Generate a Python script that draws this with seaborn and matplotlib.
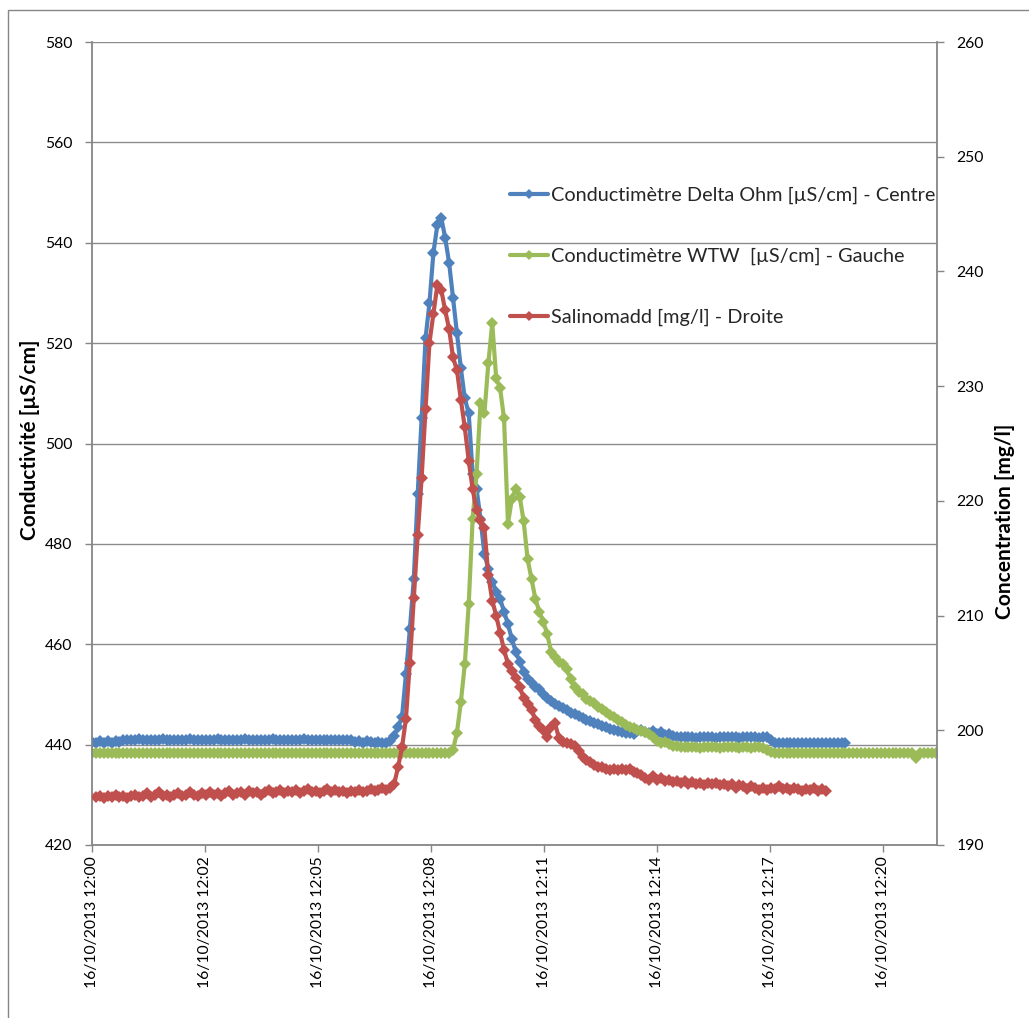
import numpy as np
import pandas as pd
import matplotlib
matplotlib.use("Agg")
import matplotlib.pyplot as plt
import matplotlib.dates as mdates
from matplotlib.patches import Rectangle
import seaborn as sns

# ---------------- data ----------------
START = "2013-10-16 12:00:00"
STEP_S = 6          # sampling step (s)
RED_OFFSET_S = 6    # Salinomadd starts a little later
X_END_S = 1292

LABEL_BLUE = "Conductimètre Delta Ohm [µS/cm] - Centre"
LABEL_GREEN = "Conductimètre WTW  [µS/cm] - Gauche"
LABEL_RED = "Salinomadd [mg/l] - Droite"

X_TICK_LABELS = ["16/10/2013 12:00", "16/10/2013 12:02", "16/10/2013 12:05",
                 "16/10/2013 12:08", "16/10/2013 12:11", "16/10/2013 12:14",
                 "16/10/2013 12:17", "16/10/2013 12:20"]
X_TICK_STEP_S = 172.8

LEFT_TICKS = [420, 440, 460, 480, 500, 520, 540, 560, 580]
RIGHT_TICKS = [190, 200, 210, 220, 230, 240, 250, 260]

blue_vals = [
    440.6, 440.3, 440.8, 440.4, 440.7, 440.3, 440.8, 440.5, 440.9, 441.0,
    441.0, 441.0, 441.1, 441.0, 441.0, 440.9, 441.0, 441.0, 441.1, 441.0,
    441.0, 441.0, 440.9, 441.0, 441.0, 441.1, 441.0, 441.0, 441.0, 440.9,
    441.0, 441.0, 441.1, 441.0, 441.0, 441.0, 440.9, 441.0, 441.0, 441.1,
    441.0, 441.0, 441.0, 440.9, 441.0, 441.0, 441.1, 441.0, 441.0, 441.0,
    441.0, 440.9, 441.0, 441.0, 441.1, 441.0, 441.0, 440.9, 441.0, 441.0,
    441.0, 440.9, 441.0, 441.0, 441.0, 440.9, 441.0, 440.6, 440.8,
    440.4, 440.7, 440.5, 440.3, 440.6, 440.3, 440.4, 440.8,
    441.8, 443.5, 445.5, 454.0, 463.0, 473.0, 490.0, 505.0, 521.0, 528.0,
    538.0, 543.5, 545.0, 541.0, 536.0, 529.0, 522.0, 515.0, 509.0, 506.0,
    494.0, 491.0, 485.0, 478.0, 475.0, 472.5, 470.5, 469.0, 466.5, 464.0,
    461.0, 458.5, 456.5, 454.5, 453.0, 452.2, 451.5, 451.0, 450.0, 449.3,
    448.6, 448.0, 447.6, 447.2, 446.8, 446.4, 446.1, 445.7, 445.4, 445.0,
    444.7, 444.4, 444.2, 443.8, 443.5, 443.2, 443.0, 442.8, 442.6, 442.4,
    442.3, 442.2, 442.7, 443.0, 442.6, 442.3, 442.7, 442.2, 442.5, 441.9,
    442.2, 441.7,
    441.6, 441.5, 441.5, 441.6, 441.5, 441.4, 441.5, 441.5, 441.6, 441.5,
    441.4, 441.5, 441.5, 441.6, 441.5, 441.5, 441.4, 441.5, 441.5, 441.6,
    441.5, 441.4, 441.5, 441.6,
    441.0,
    440.4, 440.3, 440.4, 440.3, 440.3, 440.4, 440.3, 440.4, 440.3, 440.3,
    440.4, 440.3, 440.4, 440.3, 440.3, 440.4, 440.3, 440.3, 440.4,
]

green_vals = [
    438.3, 438.3, 438.3, 438.3, 438.3, 438.3, 438.3, 438.3, 438.3, 438.3,
    438.3, 438.3, 438.3, 438.3, 438.3, 438.3, 438.3, 438.3, 438.3, 438.3,
    438.3, 438.3, 438.3, 438.3, 438.3, 438.3, 438.3, 438.3, 438.3, 438.3,
    438.3, 438.3, 438.3, 438.3, 438.3, 438.3, 438.3, 438.3, 438.3, 438.3,
    438.3, 438.3, 438.3, 438.3, 438.3, 438.3, 438.3, 438.3, 438.3, 438.3,
    438.3, 438.3, 438.3, 438.3, 438.3, 438.3, 438.3, 438.3, 438.3, 438.3,
    438.3, 438.3, 438.3, 438.3, 438.3, 438.3, 438.3, 438.3, 438.3, 438.3,
    438.3, 438.3, 438.3, 438.3, 438.3, 438.3, 438.3, 438.3, 438.3, 438.3,
    438.3, 438.3, 438.3, 438.3, 438.3, 438.3, 438.3, 438.3, 438.3, 438.3,
    438.3, 438.3,
    439.0, 442.4, 448.5, 456.0, 468.0, 485.0, 494.0, 508.0, 506.0, 516.0,
    524.0, 513.0, 511.0, 505.0, 484.0, 489.0, 491.0, 489.4, 484.5, 477.0,
    473.0, 469.0, 466.5, 464.5, 462.0, 458.5, 457.5, 456.5, 456.0, 455.0,
    453.0, 451.5, 450.5, 450.0, 449.0, 448.6, 448.2, 447.4, 447.0, 446.5,
    446.0, 445.5, 445.0, 444.6, 444.0, 443.6, 443.4, 443.0, 442.7, 442.5,
    442.2, 441.5, 440.8, 440.4, 440.6, 440.2, 439.8, 439.7, 439.6,
    439.5, 439.6, 439.5, 439.5, 439.4, 439.5, 439.6, 439.5, 439.5, 439.4,
    439.5, 439.5, 439.6, 439.5, 439.4, 439.5, 439.5, 439.3, 439.6, 439.5,
    439.4,
    439.0, 438.6,
    438.3, 438.3, 438.3, 438.3, 438.3, 438.3, 438.3, 438.3, 438.3, 438.3,
    438.3, 438.3, 438.3, 438.3, 438.3, 438.3, 438.3, 438.3, 438.3, 438.3,
    438.3, 438.3, 438.3, 438.3, 438.3, 438.3, 438.3, 438.3, 438.3, 438.3,
    438.3, 438.3, 438.3, 438.3, 438.3, 438.3, 437.3, 438.3, 438.3, 438.3,
    438.3, 438.3,
]

red_vals = [
    194.2, 194.3, 194.1, 194.3, 194.2, 194.4, 194.2, 194.3, 194.1, 194.3,
    194.4, 194.2, 194.3, 194.5, 194.2, 194.4, 194.6, 194.3, 194.4, 194.2,
    194.4, 194.5, 194.3, 194.4, 194.6, 194.4, 194.3, 194.5, 194.4, 194.6,
    194.4, 194.5, 194.3, 194.5, 194.7, 194.4, 194.5, 194.6, 194.4, 194.7,
    194.5, 194.6, 194.4, 194.6, 194.8, 194.5, 194.6, 194.8, 194.5, 194.7,
    194.6, 194.8, 194.5, 194.7, 194.9, 194.6, 194.7, 194.5, 194.7, 194.9,
    194.6, 194.8, 194.6, 194.7, 194.5, 194.7, 194.6, 194.8, 194.6, 194.7,
    194.9, 194.7, 194.8, 195.0, 194.8,
    195.0, 195.3, 196.8, 198.5, 201.0, 205.9, 211.5, 217.0, 222.0, 228.0,
    233.8, 236.3, 238.8, 238.4, 236.6, 235.0, 232.5, 231.4, 228.8, 226.4,
    223.5, 221.0, 219.2, 218.3, 217.6, 213.5, 211.3, 210.0, 208.5, 207.0,
    205.8, 205.2, 204.6, 203.8, 202.8, 202.3, 201.8, 200.9, 200.4, 200.0,
    199.4, 200.3, 200.6, 199.3, 199.0, 198.9, 198.8, 198.6, 198.2, 197.7,
    197.4, 197.2, 197.0, 196.8, 196.8, 196.6, 196.5, 196.6, 196.5, 196.6,
    196.5, 196.6, 196.4, 196.3, 196.1, 195.8, 195.7, 196.0, 195.7, 195.8,
    195.6, 195.7, 195.5, 195.6, 195.4, 195.6, 195.3, 195.5, 195.3, 195.4,
    195.2, 195.4, 195.3, 195.4, 195.2, 195.3, 195.1, 195.3, 195.0, 195.2,
    195.1, 194.9, 195.1, 195.0, 194.8, 195.0, 194.8, 195.0, 194.9, 195.1,
    194.9, 195.0, 194.8, 195.0, 194.9, 194.7, 194.9, 194.8, 195.0, 194.7,
    194.9, 194.7,
]

C_BLUE = "#4F81BD"
C_GREEN = "#9BBB59"
C_RED = "#C0504D"
C_AXIS = "#868686"
C_GRID = "#8C8C8C"

# ---------------- build frames ----------------
t0 = pd.Timestamp(START)
blue_df = pd.DataFrame({"time": t0 + pd.to_timedelta(np.arange(len(blue_vals)) * STEP_S, unit="s"),
                        "value": blue_vals})
green_df = pd.DataFrame({"time": t0 + pd.to_timedelta(np.arange(len(green_vals)) * STEP_S, unit="s"),
                         "value": green_vals})
red_df = pd.DataFrame({"time": t0 + pd.to_timedelta(RED_OFFSET_S + np.arange(len(red_vals)) * STEP_S, unit="s"),
                       "value": red_vals})

# ---------------- figure ----------------
sns.set_theme(style="white")
plt.rcParams["font.family"] = ["Lato", "DejaVu Sans"]

W, H = 1029, 1018
fig = plt.figure(figsize=(W / 100, H / 100), dpi=100)
fig.patch.set_facecolor("white")
L, R, T, B = 92, 937, 42, 845
ax = fig.add_axes([L / W, 1 - B / H, (R - L) / W, (B - T) / H])
ax.set_facecolor("white")
ax2 = ax.twinx()

common = dict(marker="D", markersize=6, markeredgewidth=0, linewidth=3.0, estimator=None)
sns.lineplot(data=blue_df, x="time", y="value", ax=ax, color=C_BLUE, label=LABEL_BLUE, **common)
sns.lineplot(data=green_df, x="time", y="value", ax=ax, color=C_GREEN, label=LABEL_GREEN, **common)
sns.lineplot(data=red_df, x="time", y="value", ax=ax2, color=C_RED, label=LABEL_RED, **common)
for a in (ax, ax2):
    lg = a.get_legend()
    if lg is not None:
        lg.remove()

# axes ranges
ax.set_xlim(t0, t0 + pd.Timedelta(seconds=X_END_S))
ax.set_ylim(LEFT_TICKS[0], LEFT_TICKS[-1])
ax2.set_ylim(RIGHT_TICKS[0], RIGHT_TICKS[-1])
ax.set_yticks(LEFT_TICKS)
ax.set_yticklabels([str(v) for v in LEFT_TICKS])
ax2.set_yticks(RIGHT_TICKS)
ax2.set_yticklabels([str(v) for v in RIGHT_TICKS])
xticks = [t0 + pd.Timedelta(seconds=k * X_TICK_STEP_S) for k in range(len(X_TICK_LABELS))]
ax.set_xticks(mdates.date2num(xticks))
ax.set_xticklabels(X_TICK_LABELS)
ax.set_xlabel("")
ax.set_ylabel("")
ax2.set_ylabel("")

# grid
ax.yaxis.grid(True, color=C_GRID, linewidth=1.0)
ax.xaxis.grid(False)
ax2.grid(False)
ax.set_axisbelow(True)

# spines
for a in (ax, ax2):
    a.spines["top"].set_visible(False)
ax.spines["right"].set_visible(False)
ax2.spines["left"].set_visible(False)
ax2.spines["bottom"].set_visible(False)
for s in ("left", "bottom"):
    ax.spines[s].set_color(C_AXIS)
    ax.spines[s].set_linewidth(1.3)
ax2.spines["right"].set_color(C_AXIS)
ax2.spines["right"].set_linewidth(1.3)

# ticks
ax.tick_params(axis="y", left=True, right=False, direction="out", length=5, width=1,
               color=C_AXIS, pad=9, labelsize=11.3, labelcolor="black")
ax.tick_params(axis="x", bottom=True, direction="out", length=5, width=1,
               color=C_AXIS, pad=3, labelsize=11.3, labelcolor="black", labelrotation=90)
ax2.tick_params(axis="y", right=True, left=False, direction="out", length=5, width=1,
                color=C_AXIS, pad=9, labelsize=11.3, labelcolor="black")

# axis titles
fig.text(30 / W, 1 - 440 / H, "Conductivité [µS/cm]", rotation=90, ha="center", va="center",
         fontsize=15, fontweight="bold", color="black")
fig.text(1005 / W, 1 - 521 / H, "Concentration [mg/l]", rotation=90, ha="center", va="center",
         fontsize=15, fontweight="bold", color="black")

# legend
h1, l1 = ax.get_legend_handles_labels()
h2, l2 = ax2.get_legend_handles_labels()
leg = ax2.legend(h1 + h2, l1 + l2, loc="upper left", bbox_to_anchor=(510 / W, 1 - 187 / H),
                 bbox_transform=fig.transFigure, frameon=False, fontsize=14.3,
                 labelspacing=2.2, handlelength=1.9, handletextpad=0.15,
                 borderpad=0, borderaxespad=0, markerscale=0.8)

# chart-area border
fig.patches.append(Rectangle((8 / W, -0.1), 1.2, (1 - 10 / H) + 0.1, transform=fig.transFigure,
                             fill=False, edgecolor=C_AXIS, linewidth=1.0))

fig.savefig("out.png", dpi=100)
